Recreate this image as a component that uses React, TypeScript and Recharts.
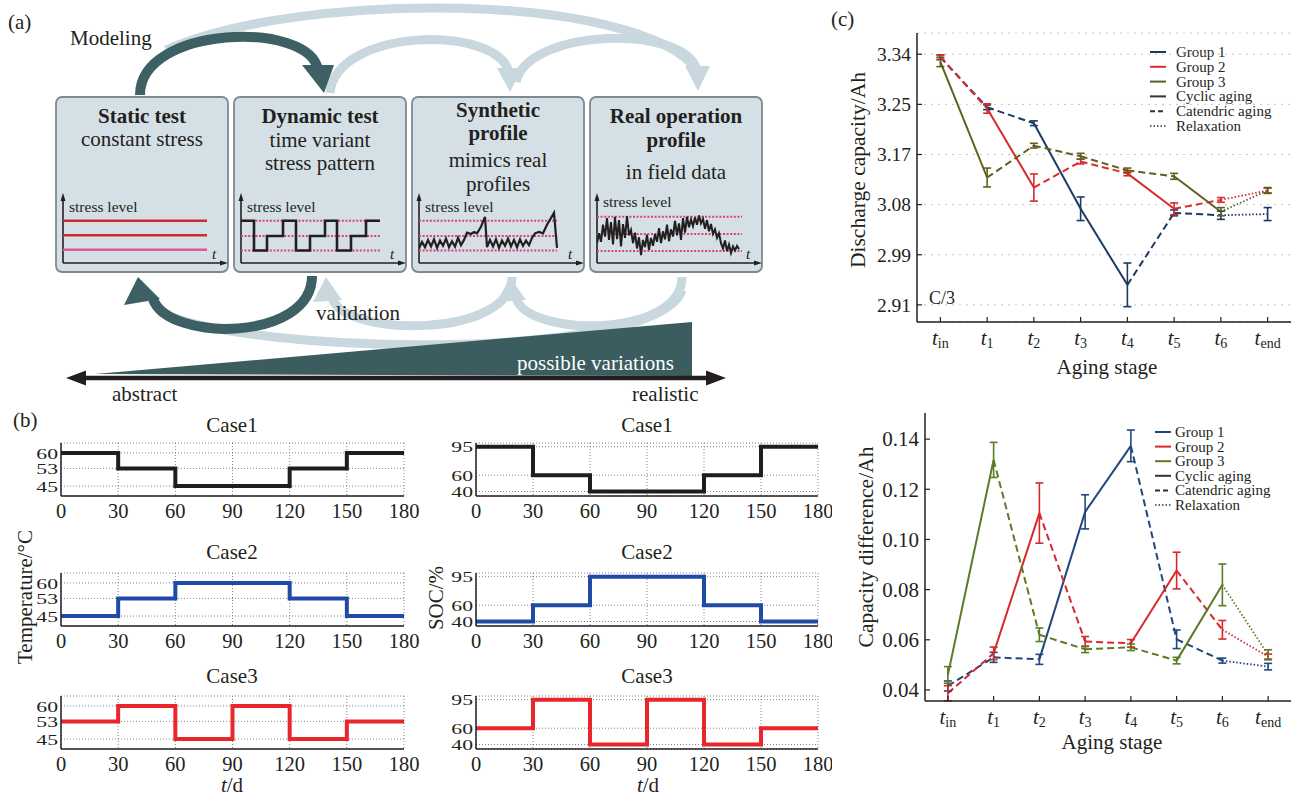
import React from "react";
import { LineChart, ComposedChart, Line, XAxis, YAxis, CartesianGrid, ErrorBar } from "recharts";

const FONT = '"Liberation Serif", "Times New Roman", Times, serif';
const INK = "#231f20";
const DARK = "#3d6064";
const LIGHT = "#c9d8de";
const PINK = "#e0407a";

// ===== (a) schematic stress-profile data =====
const staticLevels = [6.4, 4.2, 2.0];
const staticColors = ["#cc2a30", "#cc2a30", "#e4559b"];
const staticSpan = [0, 144];
const refLevels = [1.9, 4.1, 6.4];
const realRefLevels = [1.8, 4.4, 7.0];
const dynTimes = [0, 13, 26, 42, 55, 69, 84, 96, 110, 125, 139];
const dynLevels = [6.4, 1.9, 4.1, 6.4, 1.9, 4.1, 6.4, 1.9, 4.1, 6.4, 6.4];
const synTimes = [0, 3, 6, 9, 12, 15, 18, 21, 24, 27, 30, 33, 36, 39, 42, 45, 48, 52, 55, 58, 62, 66, 68, 71, 74, 77, 80, 83, 86, 89, 92, 95, 98, 101, 104, 107, 110, 113, 116, 120, 124, 128, 135, 138];
const synLevels = [2.2, 3.2, 2.4, 3.5, 2.5, 3.6, 2.3, 3.4, 2.6, 3.7, 2.4, 3.3, 2.5, 3.8, 2.7, 3.5, 4.6, 4.4, 4.7, 4.5, 5.5, 7.0, 2.4, 3.5, 2.5, 3.6, 2.3, 3.4, 2.6, 3.7, 2.5, 3.5, 2.4, 3.6, 2.6, 3.4, 2.7, 3.8, 4.5, 4.7, 4.5, 5.8, 7.6, 2.3];
const realTimes = [0, 2, 4, 6, 8, 10, 12, 14, 16, 18, 20, 22, 24, 26, 28, 30, 32, 34, 36, 38, 40, 42, 44, 46, 48, 50, 52, 54, 56, 58, 60, 62, 64, 66, 68, 70, 72, 74, 76, 78, 80, 82, 84, 86, 88, 90, 92, 94, 96, 98, 100, 102, 104, 106, 108, 110, 112, 114, 116, 118, 120, 122, 124, 126, 128, 130, 132, 134, 136, 138, 140, 142];
const realLevels = [3.0, 4.5, 3.2, 5.8, 4.0, 6.8, 3.5, 6.2, 2.8, 7.0, 3.6, 6.5, 2.5, 5.9, 3.8, 7.1, 4.2, 5.0, 3.0, 4.6, 2.2, 3.9, 1.2, 3.5, 2.4, 4.3, 2.0, 3.8, 2.6, 4.4, 3.2, 5.3, 3.0, 4.8, 3.6, 5.8, 3.3, 5.1, 4.0, 6.4, 4.2, 6.0, 3.5, 6.8, 4.6, 7.0, 5.4, 6.6, 5.6, 6.9, 5.8, 7.2, 6.0, 6.7, 5.2, 6.5, 4.8, 5.9, 4.4, 5.1, 3.8, 4.5, 3.0, 2.2, 3.4, 1.8, 2.8, 1.5, 2.5, 1.9, 2.6, 2.1];

// ===== (b) stress protocols =====
const dayTicks = [0, 30, 60, 90, 120, 150, 180];
const tempTicks = [45, 53, 60];
const socTicks = [40, 60, 95];
const tempCase1 = [60, 53, 45, 45, 53, 60];
const tempCase2 = [45, 53, 60, 60, 53, 45];
const tempCase3 = [53, 60, 45, 60, 45, 53];
const socCase1 = [95, 60, 40, 40, 60, 95];
const socCase2 = [40, 60, 95, 95, 60, 40];
const socCase3 = [60, 95, 40, 95, 40, 60];
const caseColors = ["#1e1e1e", "#1f4aa8", "#e8262b"];

// ===== (c) aging results =====
const stageTicks = [0, 1, 2, 3, 4, 5, 6, 7];
const stageSubs = ["in", "1", "2", "3", "4", "5", "6", "end"];
const capTicks = [2.91, 2.995, 3.08, 3.165, 3.25, 3.335];
const capTickLabels = ["2.91", "2.99", "3.08", "3.17", "3.25", "3.34"];
const diffTicks = [0.04, 0.06, 0.08, 0.1, 0.12, 0.14];
const diffTickLabels = ["0.04", "0.06", "0.08", "0.10", "0.12", "0.14"];

const capG1 = [3.33, 3.245, 3.218, 3.073, 2.944, 3.066, 3.062, 3.064];
const capG2 = [3.33, 3.243, 3.109, 3.153, 3.133, 3.073, 3.088, 3.104];
const capG3 = [3.322, 3.126, 3.18, 3.162, 3.138, 3.128, 3.068, 3.104];
const capErrG1 = [0.004, 0.004, 0.004, 0.02, 0.037, 0.005, 0.007, 0.011];
const capErrG2 = [0.004, 0.008, 0.023, 0.004, 0.004, 0.01, 0.004, 0.004];
const capErrG3 = [0.008, 0.016, 0.004, 0.005, 0.004, 0.005, 0.007, 0.005];

const diffG1 = [0.0416, 0.053, 0.0522, 0.111, 0.1373, 0.0602, 0.0517, 0.0493];
const diffG2 = [0.0387, 0.0546, 0.1105, 0.0593, 0.0586, 0.0876, 0.064, 0.0533];
const diffG3 = [0.046, 0.1317, 0.062, 0.0562, 0.057, 0.0517, 0.0819, 0.054];
const diffErrG1 = [0.002, 0.002, 0.002, 0.0068, 0.0063, 0.0037, 0.001, 0.0013];
const diffErrG2 = [0.003, 0.0025, 0.012, 0.002, 0.0015, 0.0073, 0.0037, 0.001];
const diffErrG3 = [0.0033, 0.007, 0.0027, 0.0013, 0.0013, 0.0013, 0.0083, 0.002];

const stylesG1 = ["dash", "dash", "solid", "solid", "dash", "dash", "dot"];
const stylesG2 = ["dash", "solid", "dash", "dash", "solid", "dash", "dot"];
const stylesG3 = ["solid", "dash", "dash", "dash", "dash", "solid", "dot"];

const groupNames = ["Group 1", "Group 2", "Group 3"];
const capColors = ["#1d3a63", "#d92b2b", "#625f1e"];
const diffColors = ["#22477f", "#d8282b", "#5b7b24"];
const agingNames = ["Cyclic aging", "Catendric aging", "Relaxation"];
const agingStyles = ["solid", "dash", "dot"];

const DASH: Record<string, string | undefined> = { solid: undefined, dash: "7 4", dot: "1.5 2" };

// ---------- helpers ----------
function lvlLine(level: number, span: number[]) {
  return [
    { t: span[0], v: level },
    { t: span[1], v: level },
  ];
}

type MiniSeries = { data: { t: number; v: number }[]; color: string; width: number; dash?: string; type?: "linear" | "stepAfter" };

function MiniChart({ left, top, series }: { left: number; top: number; series: MiniSeries[] }) {
  return (
    <div style={{ position: "absolute", left, top }}>
      <LineChart width={160} height={66} margin={{ top: 0, right: 0, bottom: 0, left: 0 }}>
        <XAxis type="number" dataKey="t" domain={[0, 160]} hide allowDataOverflow />
        <YAxis type="number" domain={[0, 10]} hide allowDataOverflow />
        {series.map((s, i) => (
          <Line
            key={i}
            data={s.data}
            dataKey="v"
            type={s.type || "linear"}
            stroke={s.color}
            strokeWidth={s.width}
            strokeDasharray={s.dash}
            dot={false}
            activeDot={false}
            isAnimationActive={false}
          />
        ))}
      </LineChart>
    </div>
  );
}

function StepChart({
  left,
  top,
  yAxisWidth,
  plotWidth,
  rightMargin,
  values,
  color,
  domain,
  ticks,
}: {
  left: number;
  top: number;
  yAxisWidth: number;
  plotWidth: number;
  rightMargin: number;
  values: number[];
  color: string;
  domain: number[];
  ticks: number[];
}) {
  const data = dayTicks.map((d, i) => ({ d, v: values[Math.min(i, values.length - 1)] }));
  const axisLine = { stroke: INK, strokeWidth: 1.5 };
  return (
    <div style={{ position: "absolute", left, top }}>
      <LineChart
        width={yAxisWidth + plotWidth + rightMargin}
        height={4 + 53 + 34}
        data={data}
        margin={{ top: 4, right: rightMargin, bottom: 0, left: 0 }}
      >
        <CartesianGrid stroke="#666" strokeDasharray="1 2" strokeWidth={0.8} />
        <XAxis
          dataKey="d"
          type="number"
          domain={[0, 180]}
          ticks={dayTicks}
          interval={0}
          tickLine={false}
          tickSize={0}
          tickMargin={7}
          axisLine={axisLine}
          tick={{ fontSize: 20.5, fill: INK, fontFamily: FONT }}
          height={34}
        />
        <XAxis
          xAxisId="top"
          orientation="top"
          dataKey="d"
          type="number"
          domain={[0, 180]}
          ticks={dayTicks}
          tick={false}
          tickLine={false}
          axisLine={axisLine}
          height={0}
        />
        <YAxis
          type="number"
          domain={domain}
          ticks={ticks}
          interval={0}
          allowDataOverflow
          tickLine={false}
          tickSize={0}
          tickMargin={3}
          width={yAxisWidth}
          axisLine={axisLine}
          tick={(p: any) => (
            <text
              transform={`translate(${p.x},${p.y}) scale(1.4,1)`}
              textAnchor="end"
              dy="0.36em"
              fontFamily={FONT}
              style={{ fontFamily: FONT }}
              fontSize={15.5}
              fill={INK}
            >
              {p.payload.value}
            </text>
          )}
        />
        <YAxis
          yAxisId="right"
          orientation="right"
          type="number"
          domain={domain}
          ticks={ticks}
          allowDataOverflow
          tick={false}
          tickLine={false}
          width={0}
          axisLine={axisLine}
        />
        <Line type="stepAfter" dataKey="v" stroke={color} strokeWidth={4} dot={false} activeDot={false} isAnimationActive={false} />
      </LineChart>
    </div>
  );
}

type Group = { color: string; values: number[]; errors: number[]; styles: string[] };

function AgingChart({
  left,
  top,
  width,
  height,
  marginTop,
  yAxisWidth,
  xAxisHeight,
  domain,
  ticks,
  tickLabels,
  tickFont,
  groups,
  grid,
}: {
  left: number;
  top: number;
  width: number;
  height: number;
  marginTop: number;
  yAxisWidth: number;
  xAxisHeight: number;
  domain: number[];
  ticks: number[];
  tickLabels: string[];
  tickFont: number;
  groups: Group[];
  grid: boolean;
}) {
  const axisLine = { stroke: INK, strokeWidth: 1.5 };
  return (
    <div style={{ position: "absolute", left, top }}>
      <ComposedChart width={width} height={height} margin={{ top: marginTop, right: 1, bottom: 0, left: 0 }}>
        {grid && <CartesianGrid vertical={false} stroke="#c4c4c4" strokeDasharray="2 5" strokeWidth={1} />}
        <XAxis
          dataKey="x"
          type="number"
          domain={[-0.5, 7.5]}
          ticks={stageTicks}
          interval={0}
          allowDataOverflow
          tickSize={0}
          tickMargin={0}
          tickLine={false}
          axisLine={axisLine}
          height={xAxisHeight}
          tick={(p: any) => (
            <g>
              <line x1={p.x} x2={p.x} y1={p.y} y2={p.y - 5} stroke={INK} strokeWidth={1.2} />
              <text x={p.x} y={p.y + 23} textAnchor="middle" fontFamily={FONT} style={{ fontFamily: FONT }} fontSize={21} fill={INK}>
                <tspan fontStyle="italic">t</tspan>
                <tspan fontSize={14} dy={3}>
                  {stageSubs[p.payload.value]}
                </tspan>
              </text>
            </g>
          )}
        />
        <XAxis
          xAxisId="t"
          orientation="top"
          dataKey="x"
          type="number"
          domain={[-0.5, 7.5]}
          ticks={stageTicks}
          interval={0}
          allowDataOverflow
          tickSize={0}
          tickMargin={0}
          tickLine={false}
          axisLine={axisLine}
          height={0}
          tick={(p: any) => <line x1={p.x} x2={p.x} y1={p.y} y2={p.y + 5} stroke={INK} strokeWidth={1.2} />}
        />
        <YAxis
          type="number"
          domain={domain}
          ticks={ticks}
          interval={0}
          allowDataOverflow
          tickSize={0}
          tickMargin={0}
          tickLine={false}
          axisLine={axisLine}
          width={yAxisWidth}
          tick={(p: any) => (
            <g>
              <line x1={p.x} x2={p.x + 5} y1={p.y} y2={p.y} stroke={INK} strokeWidth={1.2} />
              <text x={p.x - 6} y={p.y} dy="0.35em" textAnchor="end" fontFamily={FONT} style={{ fontFamily: FONT }} fontSize={tickFont} fill={INK}>
                {tickLabels[p.index]}
              </text>
            </g>
          )}
        />
        <YAxis
          yAxisId="r"
          orientation="right"
          type="number"
          domain={domain}
          ticks={ticks}
          interval={0}
          allowDataOverflow
          tickSize={0}
          tickMargin={0}
          tickLine={false}
          axisLine={axisLine}
          width={0}
          tick={(p: any) => <line x1={p.x} x2={p.x - 5} y1={p.y} y2={p.y} stroke={INK} strokeWidth={1.2} />}
        />
        {groups.flatMap((g, gi) =>
          g.styles.map((s, i) => (
            <Line
              key={`s${gi}-${i}`}
              data={[
                { x: i, y: g.values[i] },
                { x: i + 1, y: g.values[i + 1] },
              ]}
              dataKey="y"
              type="linear"
              stroke={g.color}
              strokeWidth={s === "dot" ? 1.8 : 2}
              strokeDasharray={DASH[s]}
              dot={false}
              activeDot={false}
              isAnimationActive={false}
            />
          ))
        )}
        {groups.map((g, gi) => (
          <Line
            key={`e${gi}`}
            data={g.values.map((v, i) => ({ x: i, y: v, e: g.errors[i] }))}
            dataKey="y"
            stroke="none"
            dot={false}
            activeDot={false}
            isAnimationActive={false}
          >
            <ErrorBar dataKey="e" direction="y" width={4} stroke={g.color} strokeWidth={1.6} />
          </Line>
        ))}
      </ComposedChart>
    </div>
  );
}

function T(props: any) {
  return <text fontFamily={FONT} fill={INK} fontSize={21} {...props} style={{ fontFamily: FONT }} />;
}

function Legend({ x, y, step, colors, lineX }: { x: number; y: number; step: number; colors: string[]; lineX: number }) {
  const rows = [
    ...groupNames.map((n, i) => ({ name: n, color: colors[i], dash: undefined as string | undefined, w: 2 })),
    ...agingNames.map((n, i) => ({ name: n, color: "#333", dash: DASH[agingStyles[i]], w: i === 2 ? 1.4 : 2 })),
  ];
  return (
    <g>
      {rows.map((r, i) => (
        <g key={i}>
          <line
            x1={lineX}
            x2={lineX + 16}
            y1={y + i * step}
            y2={y + i * step}
            stroke={r.color}
            strokeWidth={r.w}
            strokeDasharray={r.dash ? (r.dash === "7 4" ? "5 3" : r.dash) : undefined}
          />
          <T x={x} y={y + i * step} dy="0.33em" fontSize={15}>
            {r.name}
          </T>
        </g>
      ))}
    </g>
  );
}

const boxX = [56, 234, 412, 590];

export default function App() {
  const box1: MiniSeries[] = staticLevels.map((l, i) => ({ data: lvlLine(l, staticSpan), color: staticColors[i], width: 2.6 }));
  const box2: MiniSeries[] = [
    ...refLevels.map((l) => ({ data: lvlLine(l, [0, 140]), color: PINK, width: 2, dash: "2 1.6" })),
    { data: dynTimes.map((t, i) => ({ t, v: dynLevels[i] })), color: INK, width: 2.6, type: "stepAfter" as const },
  ];
  const box3: MiniSeries[] = [
    ...refLevels.map((l) => ({ data: lvlLine(l, [0, 138]), color: PINK, width: 2, dash: "2 1.6" })),
    { data: synTimes.map((t, i) => ({ t, v: synLevels[i] })), color: INK, width: 2.2 },
  ];
  const box4: MiniSeries[] = [
    ...realRefLevels.map((l) => ({ data: lvlLine(l, [0, 145]), color: PINK, width: 2, dash: "2 1.6" })),
    { data: realTimes.map((t, i) => ({ t, v: realLevels[i] })), color: INK, width: 2 },
  ];

  const capGroups: Group[] = [
    { color: capColors[0], values: capG1, errors: capErrG1, styles: stylesG1 },
    { color: capColors[1], values: capG2, errors: capErrG2, styles: stylesG2 },
    { color: capColors[2], values: capG3, errors: capErrG3, styles: stylesG3 },
  ];
  const diffGroups: Group[] = [
    { color: diffColors[0], values: diffG1, errors: diffErrG1, styles: stylesG1 },
    { color: diffColors[1], values: diffG2, errors: diffErrG2, styles: stylesG2 },
    { color: diffColors[2], values: diffG3, errors: diffErrG3, styles: stylesG3 },
  ];

  return (
    <div style={{ position: "absolute", left: 0, top: 0, width: 1292, height: 798, background: "#fff", overflow: "hidden", fontFamily: FONT }}>
      <svg width={1292} height={798} style={{ position: "absolute", left: 0, top: 0, fontFamily: FONT }}>
        {/* ---- (a) arrows ---- */}
        <path d="M 166 50 C 300 -10, 640 -8, 697 70" fill="none" stroke={LIGHT} strokeWidth={9} />
        <path d="M 330 93 C 336 28, 496 24, 509 72" fill="none" stroke={LIGHT} strokeWidth={9} />
        <path d="M 516 82 C 528 28, 684 24, 697 70" fill="none" stroke={LIGHT} strokeWidth={9} />
        <polygon points="497,68 522,68 510,92" fill={LIGHT} />
        <polygon points="685,66 710,66 698,91" fill={LIGHT} />
        <path d="M 140 95 C 140 25, 310 20, 318 70" fill="none" stroke={DARK} strokeWidth={10} />
        <polygon points="302,65 334,65 324,93" fill={DARK} />

        <path d="M 682 290 C 660 362, 250 356, 160 312" fill="none" stroke={LIGHT} strokeWidth={9} />
        <path d="M 682 277 C 682 338, 528 338, 516 298" fill="none" stroke={LIGHT} strokeWidth={9} />
        <polygon points="510,277 497,302 526,300" fill={LIGHT} />
        <path d="M 512 277 C 512 338, 345 338, 332 298" fill="none" stroke={LIGHT} strokeWidth={9} />
        <polygon points="326,277 313,302 342,300" fill={LIGHT} />
        <path d="M 312 276 C 312 342, 168 342, 153 299" fill="none" stroke={DARK} strokeWidth={10} />
        <polygon points="138,277 124,305 160,299" fill={DARK} />

        {/* ---- (a) boxes ---- */}
        {boxX.map((x0, i) => (
          <g key={i}>
            <rect x={x0} y={97} width={172} height={175} rx={6} fill="#d4e0e5" stroke="#7e8a90" strokeWidth={1.8} />
            <line x1={x0 + 7} y1={263} x2={x0 + 7} y2={199} stroke={INK} strokeWidth={1.6} />
            <polygon points={`${x0 + 7},193 ${x0 + 4.5},201 ${x0 + 9.5},201`} fill={INK} />
            <line x1={x0 + 7} y1={263} x2={x0 + 165} y2={263} stroke={INK} strokeWidth={1.6} />
            <polygon points={`${x0 + 172},263 ${x0 + 164},260.5 ${x0 + 164},265.5`} fill={INK} />
            <T x={x0 + 13} y={i === 3 ? 207 : 212} fontSize={15.5}>
              stress level
            </T>
            <T x={x0 + 156} y={259} fontSize={15} fontStyle="italic">
              t
            </T>
          </g>
        ))}
        <T x={142} y={123} textAnchor="middle" fontWeight="bold">Static test</T>
        <T x={142} y={146} textAnchor="middle">constant stress</T>
        <T x={320} y={123} textAnchor="middle" fontWeight="bold">Dynamic test</T>
        <T x={320} y={147} textAnchor="middle">time variant</T>
        <T x={320} y={170} textAnchor="middle">stress pattern</T>
        <T x={498} y={117} textAnchor="middle" fontWeight="bold">Synthetic</T>
        <T x={498} y={140} textAnchor="middle" fontWeight="bold">profile</T>
        <T x={498} y={167} textAnchor="middle">mimics real</T>
        <T x={498} y={191} textAnchor="middle">profiles</T>
        <T x={676} y={123} textAnchor="middle" fontWeight="bold">Real operation</T>
        <T x={676} y={147} textAnchor="middle" fontWeight="bold">profile</T>
        <T x={676} y={179} textAnchor="middle">in field data</T>

        {/* ---- (a) variation wedge and axis ---- */}
        <polygon points="95,374 692,322 692,376" fill="#3c5d60" />
        <line x1={80} y1={378} x2={712} y2={378} stroke={INK} strokeWidth={4.5} />
        <polygon points="66,378 86,370.5 86,385.5" fill={INK} />
        <polygon points="726,378 706,370.5 706,385.5" fill={INK} />
        <T x={517} y={370} fill="#ffffff">possible variations</T>
        <T x={112} y={401}>abstract</T>
        <T x={632} y={401}>realistic</T>
        <T x={70} y={45}>Modeling</T>
        <T x={316} y={320}>validation</T>
        <T x={8} y={29}>(a)</T>

        {/* ---- (b) texts ---- */}
        <T x={13} y={427}>(b)</T>
        {["Case1", "Case2", "Case3"].map((c, i) => (
          <g key={c}>
            <T x={232} y={[432, 559, 683][i]} textAnchor="middle">{c}</T>
            <T x={647} y={[432, 559, 683][i]} textAnchor="middle">{c}</T>
          </g>
        ))}
        <T x={25} y={597} dy="0.35em" textAnchor="middle" transform="rotate(-90 25 597)">Temperature/°C</T>
        <T x={436} y={598} dy="0.35em" textAnchor="middle" transform="rotate(-90 436 598)">SOC/%</T>
        <T x={232} y={792} textAnchor="middle"><tspan fontStyle="italic">t</tspan>/d</T>
        <T x={648} y={792} textAnchor="middle"><tspan fontStyle="italic">t</tspan>/d</T>

        {/* ---- (c) texts ---- */}
        <T x={831} y={26}>(c)</T>
        <T x={857} y={170} dy="0.35em" textAnchor="middle" fontSize={21.5} transform="rotate(-90 857 170)">Discharge capacity/Ah</T>
        <T x={1107} y={374} textAnchor="middle">Aging stage</T>
        <T x={929} y={304} fontSize={18}>C/3</T>
        <T x={865} y={547} dy="0.35em" textAnchor="middle" fontSize={21.5} transform="rotate(-90 865 547)">Capacity difference/Ah</T>
        <T x={1112} y={749} textAnchor="middle">Aging stage</T>
        <Legend x={1176} y={52} step={14.8} colors={capColors} lineX={1150} />
        <Legend x={1175} y={432} step={14.6} colors={diffColors} lineX={1155} />
      </svg>

      {/* (a) stress sketches */}
      <MiniChart left={boxX[0] + 7} top={197} series={box1} />
      <MiniChart left={boxX[1] + 7} top={197} series={box2} />
      <MiniChart left={boxX[2] + 7} top={197} series={box3} />
      <MiniChart left={boxX[3] + 7} top={197} series={box4} />

      {/* (b) protocols */}
      <StepChart left={0} top={439} yAxisWidth={61} plotWidth={343} rightMargin={16} values={tempCase1} color={caseColors[0]} domain={[40.5, 64.5]} ticks={tempTicks} />
      <StepChart left={0} top={569} yAxisWidth={61} plotWidth={343} rightMargin={16} values={tempCase2} color={caseColors[1]} domain={[40.5, 64.5]} ticks={tempTicks} />
      <StepChart left={0} top={692} yAxisWidth={61} plotWidth={343} rightMargin={16} values={tempCase3} color={caseColors[2]} domain={[40.5, 64.5]} ticks={tempTicks} />
      <StepChart left={420} top={439} yAxisWidth={56} plotWidth={342} rightMargin={14} values={socCase1} color={caseColors[0]} domain={[34.5, 99.5]} ticks={socTicks} />
      <StepChart left={420} top={569} yAxisWidth={56} plotWidth={342} rightMargin={14} values={socCase2} color={caseColors[1]} domain={[34.5, 99.5]} ticks={socTicks} />
      <StepChart left={420} top={692} yAxisWidth={56} plotWidth={342} rightMargin={14} values={socCase3} color={caseColors[2]} domain={[34.5, 99.5]} ticks={socTicks} />

      {/* (c) aging results */}
      <AgingChart
        left={830}
        top={0}
        width={462}
        height={380}
        marginTop={33}
        yAxisWidth={87}
        xAxisHeight={58}
        domain={[2.881, 3.371]}
        ticks={capTicks}
        tickLabels={capTickLabels}
        tickFont={19.5}
        groups={capGroups}
        grid={true}
      />
      <AgingChart
        left={830}
        top={400}
        width={462}
        height={361}
        marginTop={13}
        yAxisWidth={95}
        xAxisHeight={60}
        domain={[0.0356, 0.1504]}
        ticks={diffTicks}
        tickLabels={diffTickLabels}
        tickFont={21}
        groups={diffGroups}
        grid={false}
      />
    </div>
  );
}
